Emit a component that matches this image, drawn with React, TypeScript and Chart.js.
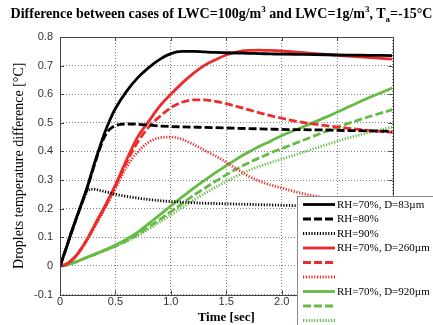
import React, { useEffect, useRef } from "react";
import { Chart, registerables } from "chart.js";

Chart.register(...registerables);

// ---- data ----
const timeSec = [
  0, 0.05, 0.1, 0.15, 0.2, 0.25, 0.3, 0.35, 0.4, 0.45, 0.5, 0.6, 0.7, 0.8, 0.9, 1.0,
  1.1, 1.2, 1.3, 1.4, 1.5, 1.6, 1.7, 1.8, 1.9, 2.0, 2.2, 2.4, 2.6, 2.8, 3.0,
];

const d83rh70 = [
  0, 0.055, 0.115, 0.17, 0.225, 0.28, 0.345, 0.405, 0.462, 0.51, 0.55, 0.61, 0.657, 0.693, 0.722, 0.742,
  0.75, 0.75, 0.748, 0.746, 0.745, 0.744, 0.743, 0.742, 0.741, 0.74, 0.739, 0.738, 0.737, 0.736, 0.735,
];
const d83rh80 = [
  0, 0.055, 0.113, 0.168, 0.222, 0.277, 0.34, 0.4, 0.45, 0.478, 0.49, 0.496, 0.495, 0.492, 0.489, 0.487,
  0.486, 0.485, 0.484, 0.483, 0.482, 0.481, 0.48, 0.479, 0.478, 0.477, 0.476, 0.475, 0.473, 0.472, 0.47,
];
const d83rh90 = [
  0, 0.055, 0.113, 0.168, 0.22, 0.262, 0.268, 0.265, 0.26, 0.255, 0.25, 0.243, 0.237, 0.232, 0.228, 0.225,
  0.223, 0.221, 0.219, 0.218, 0.217, 0.216, 0.215, 0.214, 0.213, 0.212, 0.21, 0.209, 0.208, 0.207, 0.206,
];
const d260rh70 = [
  0, 0.005, 0.018, 0.038, 0.065, 0.097, 0.133, 0.17, 0.205, 0.243, 0.283, 0.37, 0.45, 0.505, 0.558, 0.6,
  0.638, 0.672, 0.7, 0.72, 0.737, 0.748, 0.753, 0.754, 0.753, 0.751, 0.745, 0.739, 0.733, 0.728, 0.723,
];
const d260rh80 = [
  0, 0.005, 0.018, 0.038, 0.064, 0.096, 0.131, 0.167, 0.202, 0.24, 0.278, 0.362, 0.432, 0.485, 0.522, 0.553,
  0.572, 0.58, 0.58, 0.575, 0.567, 0.557, 0.546, 0.535, 0.525, 0.516, 0.501, 0.49, 0.481, 0.473, 0.467,
];
const d260rh90 = [
  0, 0.005, 0.018, 0.037, 0.063, 0.094, 0.128, 0.162, 0.197, 0.233, 0.27, 0.345, 0.398, 0.432, 0.448, 0.45,
  0.443, 0.425, 0.405, 0.385, 0.362, 0.337, 0.314, 0.296, 0.283, 0.272, 0.252, 0.237, 0.224, 0.214, 0.205,
];
const d920rh70 = [
  0, 0.002, 0.008, 0.015, 0.023, 0.031, 0.039, 0.047, 0.055, 0.063, 0.073, 0.093, 0.117, 0.148, 0.178, 0.21,
  0.24, 0.27, 0.298, 0.325, 0.35, 0.375, 0.397, 0.418, 0.436, 0.455, 0.487, 0.52, 0.555, 0.59, 0.622,
];
const d920rh80 = [
  0, 0.002, 0.008, 0.015, 0.023, 0.031, 0.038, 0.046, 0.054, 0.062, 0.07, 0.088, 0.11, 0.136, 0.162, 0.19,
  0.217, 0.245, 0.27, 0.295, 0.318, 0.34, 0.36, 0.378, 0.395, 0.41, 0.44, 0.47, 0.498, 0.523, 0.546,
];
const d920rh90 = [
  0, 0.002, 0.008, 0.015, 0.022, 0.03, 0.037, 0.045, 0.053, 0.06, 0.068, 0.085, 0.105, 0.128, 0.153, 0.178,
  0.203, 0.228, 0.252, 0.274, 0.295, 0.315, 0.333, 0.348, 0.361, 0.373, 0.398, 0.423, 0.447, 0.467, 0.485,
];

const seriesValues = [d83rh70, d83rh80, d83rh90, d260rh70, d260rh80, d260rh90, d920rh70, d920rh80, d920rh90];
const seriesLabels = [
  "RH=70%, D=83\u00b5m", "RH=80%", "RH=90%",
  "RH=70%, D=260\u00b5m", "", "",
  "RH=70%, D=920\u00b5m", "", "",
];

const xMin = 0;
const xMax = 3;
const xStep = 0.5;
const yMin = -0.1;
const yMax = 0.8;
const yStep = 0.1;

const xTitle = "Time [sec]";
const yTitle = "Droplets temperature difference [\u00b0C]";

// ---- styles ----
const BLACK = "#000000";
const RED = "#ee2b2b";
const GREEN = "#66bb44";
const colors = [BLACK, BLACK, BLACK, RED, RED, RED, GREEN, GREEN, GREEN];
const SOLID: number[] = [];
const DASH = [8, 3];
const DOT = [1.2, 1.6];
const dashes = [SOLID, DASH, DOT, SOLID, DASH, DOT, SOLID, DASH, DOT];

const framePlugin = {
  id: "matlabFrame",
  afterDraw(chart: any) {
    const { ctx, chartArea } = chart;
    const { left, right, top, bottom } = chartArea;
    const xs = chart.scales.x;
    const ys = chart.scales.y;
    ctx.save();
    ctx.strokeStyle = "#444";
    ctx.lineWidth = 1;
    ctx.setLineDash([]);
    ctx.beginPath();
    ctx.rect(Math.round(left) + 0.5, Math.round(top) + 0.5, Math.round(right - left), Math.round(bottom - top));
    ctx.stroke();
    // inner ticks
    ctx.beginPath();
    for (let v = xMin; v <= xMax + 1e-9; v += xStep) {
      const px = Math.round(xs.getPixelForValue(v)) + 0.5;
      ctx.moveTo(px, bottom);
      ctx.lineTo(px, bottom - 4);
      ctx.moveTo(px, top);
      ctx.lineTo(px, top + 4);
    }
    for (let v = yMin; v <= yMax + 1e-9; v += yStep) {
      const py = Math.round(ys.getPixelForValue(v)) + 0.5;
      ctx.moveTo(left, py);
      ctx.lineTo(left + 4, py);
      ctx.moveTo(right, py);
      ctx.lineTo(right - 4, py);
    }
    ctx.stroke();

    // legend box (overlaps plot, cut by canvas edge)
    const bx = 297.5;
    const by = 196.5;
    ctx.fillStyle = "#ffffff";
    ctx.fillRect(bx, by, 300, 200);
    ctx.strokeStyle = "#8a8a8a";
    ctx.strokeRect(bx, by, 300, 200);
    const rowH = 14.5;
    chart.data.datasets.forEach((ds: any, i: number) => {
      const y = 204.5 + i * rowH;
      ctx.save();
      ctx.strokeStyle = ds.borderColor;
      ctx.lineWidth = ds.borderWidth;
      ctx.setLineDash(ds.borderDash || []);
      ctx.lineCap = "butt";
      ctx.beginPath();
      ctx.moveTo(303, y);
      ctx.lineTo(335, y);
      ctx.stroke();
      ctx.restore();
      if (ds.label) {
        ctx.fillStyle = "#000";
        ctx.font = "11px 'Liberation Serif', 'Times New Roman', serif";
        ctx.textAlign = "left";
        ctx.textBaseline = "middle";
        ctx.fillText(ds.label, 337, y + 0.5);
      }
    });
    ctx.restore();
  },
};

export default function App() {
  const canvasRef = useRef<HTMLCanvasElement | null>(null);

  useEffect(() => {
    if (!canvasRef.current) return;
    const datasets = seriesValues.map((vals, i) => ({
      label: seriesLabels[i],
      data: timeSec.map((t, j) => ({ x: t, y: vals[j] })),
      borderColor: colors[i],
      backgroundColor: colors[i],
      borderWidth: 2.8,
      borderDash: dashes[i],
      borderCapStyle: "butt" as const,
      pointRadius: 0,
      fill: false,
      cubicInterpolationMode: "monotone" as const,
    }));
    const tickFont = { family: "'Liberation Sans', Arial, sans-serif", size: 11 };
    const chart = new Chart(canvasRef.current, {
      type: "line",
      data: { datasets },
      plugins: [framePlugin],
      options: {
        animation: false,
        responsive: false,
        maintainAspectRatio: false,
        layout: { padding: { left: 0, top: 37, right: 40.5, bottom: 0 } },
        plugins: { legend: { display: false }, tooltip: { enabled: false }, title: { display: false } },
        scales: {
          x: {
            type: "linear",
            min: xMin,
            max: xMax,
            ticks: { stepSize: xStep, color: "#333", font: tickFont, padding: 1, maxRotation: 0 },
            grid: { color: "rgba(0,0,0,0.5)", drawTicks: false, lineWidth: 1 },
            border: { display: false, dash: [1, 2] },
            title: {
              display: true,
              text: xTitle,
              color: "#000",
              font: { family: "'Liberation Serif', 'Times New Roman', serif", size: 13, weight: "bold" },
              padding: { top: 0, bottom: 0 },
            },
            afterFit(scale: any) {
              scale.height = 30.5;
            },
          },
          y: {
            type: "linear",
            min: yMin,
            max: yMax,
            ticks: { stepSize: yStep, color: "#333", font: tickFont, padding: 7 },
            grid: { color: "rgba(0,0,0,0.5)", drawTicks: false, lineWidth: 1 },
            border: { display: false, dash: [1, 2] },
            title: {
              display: true,
              text: yTitle,
              color: "#000",
              font: { family: "'Liberation Serif', 'Times New Roman', serif", size: 14 },
              padding: { top: 11, bottom: 0 },
            },
            afterFit(scale: any) {
              scale.width = 60;
            },
          },
        },
      },
    });
    return () => chart.destroy();
  }, []);

  const supStyle = { fontSize: 9, verticalAlign: 6, lineHeight: 0 } as const;
  const subStyle = { fontSize: 9, verticalAlign: -4, lineHeight: 0 } as const;

  return (
    <div style={{ position: "absolute", left: 0, top: 0, width: 433, height: 325, background: "#fff", overflow: "hidden" }}>
      <canvas ref={canvasRef} width={433} height={325} style={{ display: "block", position: "absolute", left: 0, top: 0 }} />
      <div
        style={{
          position: "absolute",
          left: 0,
          top: 5,
          width: 433,
          textAlign: "center",
          fontFamily: "'Liberation Serif', 'Times New Roman', serif",
          fontWeight: "bold",
          fontSize: 14,
          lineHeight: "17px",
          whiteSpace: "nowrap",
          color: "#000",
          paddingLeft: 10,
          boxSizing: "border-box",
        }}
      >
        Difference between cases of LWC=100g/m<sup style={supStyle}>3</sup> and LWC=1g/m
        <sup style={supStyle}>3</sup>, T<sub style={subStyle}>a</sub>=-15°C
      </div>
    </div>
  );
}
